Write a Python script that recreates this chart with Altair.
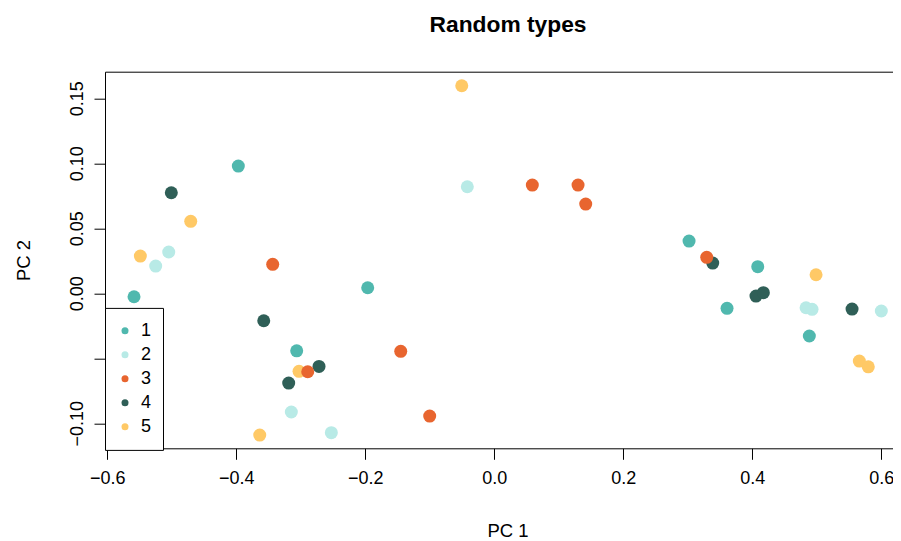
import altair as alt
import pandas as pd

FONT = "Liberation Sans"

types = ["1", "2", "3", "4", "5"]
colors = ["#50B8AE", "#B8EAE6", "#E8652F", "#2F5F57", "#FFC966"]

pc1_t1 = [-0.5586, -0.3969, -0.3064, -0.1963, 0.3019, 0.3608, 0.4084, 0.4884]
pc2_t1 = [-0.0026, 0.0979, -0.0442, 0.0043, 0.0402, -0.0115, 0.0205, -0.0328]

pc1_t2 = [-0.5250, -0.5048, -0.0419, -0.3147, -0.2527, 0.4833, 0.4926, 0.6000]
pc2_t2 = [0.0210, 0.0318, 0.0820, -0.0913, -0.1072, -0.0111, -0.0123, -0.0136]

pc1_t3 = [-0.3436, 0.0589, 0.1298, 0.1417, -0.1451, -0.1002, -0.2893, 0.3293]
pc2_t3 = [0.0223, 0.0833, 0.0833, 0.0687, -0.0446, -0.0944, -0.0603, 0.0277]

pc1_t4 = [-0.5008, -0.3575, -0.2718, -0.3188, 0.3386, 0.4057, 0.4171, 0.5546]
pc2_t4 = [0.0774, -0.0211, -0.0562, -0.0690, 0.0233, -0.0021, 0.0005, -0.0121]

pc1_t5 = [-0.5488, -0.4707, -0.0505, -0.3028, -0.3637, 0.4988, 0.5659, 0.5798]
pc2_t5 = [0.0287, 0.0554, 0.1597, -0.0600, -0.1090, 0.0143, -0.0521, -0.0565]

x_ticks = [-0.6, -0.4, -0.2, 0.0, 0.2, 0.4, 0.6]
y_ticks = [-0.10, -0.05, 0.0, 0.05, 0.10, 0.15]

groups = {
    "1": (pc1_t1, pc2_t1),
    "2": (pc1_t2, pc2_t2),
    "3": (pc1_t3, pc2_t3),
    "4": (pc1_t4, pc2_t4),
    "5": (pc1_t5, pc2_t5),
}
draw_order = ["4", "5", "2", "1", "3"]
rows = []
for t in draw_order:
    xs, ys = groups[t]
    for a, b in zip(xs, ys):
        rows.append({"pc1": a, "pc2": b, "type": t})
df = pd.DataFrame(rows)

xscale = alt.Scale(domain=[-0.6036, 0.6181], nice=False, zero=False)
yscale = alt.Scale(domain=[-0.1192, 0.1705], nice=False, zero=False)

points = alt.Chart(df).mark_circle(size=169, opacity=1).encode(
    x=alt.X("pc1:Q", scale=xscale, axis=alt.Axis(
        orient="bottom",
        values=x_ticks, format=".1f", grid=False,
        labelFont=FONT, labelFontSize=18, labelColor="black",
        labelBaseline="alphabetic", labelPadding=24, labelFlush=False, labelOverlap=False,
        tickSize=11, tickColor="black", tickWidth=1,
        domainColor="black", domainWidth=1,
        title="PC 1", titleFont=FONT, titleFontSize=18.5, titleFontWeight="normal",
        titleColor="black", titleX=402.5, titleY=88.5, titleAlign="center",
        titleBaseline="alphabetic")),
    y=alt.Y("pc2:Q", scale=yscale, axis=alt.Axis(
        values=y_ticks, format=".2f", grid=False,
        labelExpr="abs(datum.value + 0.05) < 1e-9 ? '' : datum.label",
        labelFont=FONT, labelFontSize=18, labelColor="black",
        labelAngle=270, labelAlign="center", labelBaseline="alphabetic",
        labelPadding=11.5, labelFlush=False, labelOverlap=False,
        tickSize=11, tickColor="black", tickWidth=1,
        domainColor="black", domainWidth=1,
        title="PC 2", titleFont=FONT, titleFontSize=18.5, titleFontWeight="normal",
        titleColor="black", titleAngle=270, titleX=-76, titleY=188.3,
        titleAlign="center", titleBaseline="alphabetic")),
    color=alt.Color("type:N", scale=alt.Scale(domain=types, range=colors),
                    legend=alt.Legend(
                        title=None, orient="none", legendX=0, legendY=236.2,
                        strokeColor="black", fillColor="white", padding=11,
                        symbolType="circle", symbolSize=49, symbolStrokeWidth=0,
                        labelFont=FONT, labelFontSize=18, labelColor="black",
                        labelOffset=7, rowPadding=0, clipHeight=23.65,
                        cornerRadius=0)),
)

top_border = alt.Chart(df).mark_circle(opacity=0).encode(
    x=alt.X("pc1:Q", scale=xscale, axis=alt.Axis(
        orient="top", labels=False, ticks=False, grid=False, title=None,
        domainColor="black", domainWidth=1)),
)

chart = alt.layer(points, top_border).resolve_axis(x="independent").properties(
    width=788,
    height=376.6,
    autosize="none",
    padding={"left": 97, "top": 63.7, "right": 0, "bottom": 92},
    title=alt.Title("Random types", font=FONT, fontSize=22.8, fontWeight="bold",
                    color="black", anchor="middle", frame="group",
                    baseline="alphabetic", offset=17.2, dx=9),
).configure_view(stroke="transparent")

chart.save("out.html", embed_options={"renderer": "svg", "actions": False})
